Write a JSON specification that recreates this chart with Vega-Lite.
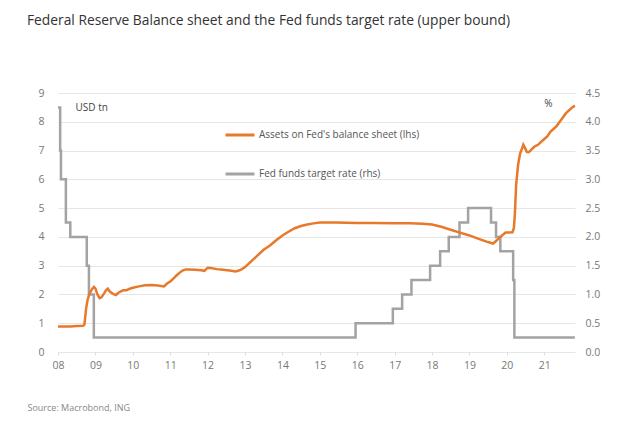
{
  "$schema": "https://vega.github.io/schema/vega-lite/v6.json",
  "width": 517,
  "height": 259,
  "autosize": {"type": "none"},
  "padding": {"left": 58, "top": 93, "right": 55, "bottom": 83},
  "background": "white",
  "config": {
    "font": "Open Sans",
    "view": {"stroke": null},
    "axis": {"labelColor": "#777777", "labelFontSize": 10.5, "titleColor": "#444444", "titleFontWeight": "normal"}
  },
  "title": {
    "text": "Federal Reserve Balance sheet and the Fed funds target rate (upper bound)",
    "anchor": "start",
    "frame": "group",
    "dx": -31,
    "offset": 60,
    "fontSize": 13.8,
    "fontWeight": "normal",
    "color": "#333333"
  },
  "datasets": {
    "assets": [
      {"date": "2008-01-01", "value": 0.89, "series": "Assets on Fed's balance sheet (lhs)"},
      {"date": "2008-03-01", "value": 0.89, "series": "Assets on Fed's balance sheet (lhs)"},
      {"date": "2008-05-01", "value": 0.89, "series": "Assets on Fed's balance sheet (lhs)"},
      {"date": "2008-07-01", "value": 0.90, "series": "Assets on Fed's balance sheet (lhs)"},
      {"date": "2008-09-01", "value": 0.91, "series": "Assets on Fed's balance sheet (lhs)"},
      {"date": "2008-09-15", "value": 0.95, "series": "Assets on Fed's balance sheet (lhs)"},
      {"date": "2008-10-01", "value": 1.5, "series": "Assets on Fed's balance sheet (lhs)"},
      {"date": "2008-10-15", "value": 1.8, "series": "Assets on Fed's balance sheet (lhs)"},
      {"date": "2008-11-01", "value": 2.0, "series": "Assets on Fed's balance sheet (lhs)"},
      {"date": "2008-11-15", "value": 2.1, "series": "Assets on Fed's balance sheet (lhs)"},
      {"date": "2008-12-01", "value": 2.2, "series": "Assets on Fed's balance sheet (lhs)"},
      {"date": "2008-12-17", "value": 2.26, "series": "Assets on Fed's balance sheet (lhs)"},
      {"date": "2009-01-01", "value": 2.2, "series": "Assets on Fed's balance sheet (lhs)"},
      {"date": "2009-01-20", "value": 2.0, "series": "Assets on Fed's balance sheet (lhs)"},
      {"date": "2009-02-10", "value": 1.87, "series": "Assets on Fed's balance sheet (lhs)"},
      {"date": "2009-03-01", "value": 1.9, "series": "Assets on Fed's balance sheet (lhs)"},
      {"date": "2009-03-20", "value": 2.0, "series": "Assets on Fed's balance sheet (lhs)"},
      {"date": "2009-04-15", "value": 2.15, "series": "Assets on Fed's balance sheet (lhs)"},
      {"date": "2009-05-01", "value": 2.2, "series": "Assets on Fed's balance sheet (lhs)"},
      {"date": "2009-05-20", "value": 2.1, "series": "Assets on Fed's balance sheet (lhs)"},
      {"date": "2009-06-10", "value": 2.05, "series": "Assets on Fed's balance sheet (lhs)"},
      {"date": "2009-07-01", "value": 2.0, "series": "Assets on Fed's balance sheet (lhs)"},
      {"date": "2009-07-20", "value": 1.98, "series": "Assets on Fed's balance sheet (lhs)"},
      {"date": "2009-08-10", "value": 2.05, "series": "Assets on Fed's balance sheet (lhs)"},
      {"date": "2009-09-01", "value": 2.1, "series": "Assets on Fed's balance sheet (lhs)"},
      {"date": "2009-10-01", "value": 2.15, "series": "Assets on Fed's balance sheet (lhs)"},
      {"date": "2009-11-01", "value": 2.15, "series": "Assets on Fed's balance sheet (lhs)"},
      {"date": "2009-12-01", "value": 2.2, "series": "Assets on Fed's balance sheet (lhs)"},
      {"date": "2010-01-01", "value": 2.23, "series": "Assets on Fed's balance sheet (lhs)"},
      {"date": "2010-03-01", "value": 2.28, "series": "Assets on Fed's balance sheet (lhs)"},
      {"date": "2010-05-01", "value": 2.32, "series": "Assets on Fed's balance sheet (lhs)"},
      {"date": "2010-07-01", "value": 2.33, "series": "Assets on Fed's balance sheet (lhs)"},
      {"date": "2010-09-01", "value": 2.31, "series": "Assets on Fed's balance sheet (lhs)"},
      {"date": "2010-11-01", "value": 2.28, "series": "Assets on Fed's balance sheet (lhs)"},
      {"date": "2010-12-01", "value": 2.38, "series": "Assets on Fed's balance sheet (lhs)"},
      {"date": "2011-01-01", "value": 2.45, "series": "Assets on Fed's balance sheet (lhs)"},
      {"date": "2011-02-01", "value": 2.55, "series": "Assets on Fed's balance sheet (lhs)"},
      {"date": "2011-03-01", "value": 2.65, "series": "Assets on Fed's balance sheet (lhs)"},
      {"date": "2011-04-01", "value": 2.75, "series": "Assets on Fed's balance sheet (lhs)"},
      {"date": "2011-05-01", "value": 2.83, "series": "Assets on Fed's balance sheet (lhs)"},
      {"date": "2011-06-01", "value": 2.87, "series": "Assets on Fed's balance sheet (lhs)"},
      {"date": "2011-07-01", "value": 2.87, "series": "Assets on Fed's balance sheet (lhs)"},
      {"date": "2011-09-01", "value": 2.86, "series": "Assets on Fed's balance sheet (lhs)"},
      {"date": "2011-11-01", "value": 2.84, "series": "Assets on Fed's balance sheet (lhs)"},
      {"date": "2011-12-01", "value": 2.82, "series": "Assets on Fed's balance sheet (lhs)"},
      {"date": "2012-01-01", "value": 2.93, "series": "Assets on Fed's balance sheet (lhs)"},
      {"date": "2012-02-01", "value": 2.92, "series": "Assets on Fed's balance sheet (lhs)"},
      {"date": "2012-04-01", "value": 2.88, "series": "Assets on Fed's balance sheet (lhs)"},
      {"date": "2012-06-01", "value": 2.86, "series": "Assets on Fed's balance sheet (lhs)"},
      {"date": "2012-08-01", "value": 2.83, "series": "Assets on Fed's balance sheet (lhs)"},
      {"date": "2012-10-01", "value": 2.8, "series": "Assets on Fed's balance sheet (lhs)"},
      {"date": "2012-11-01", "value": 2.83, "series": "Assets on Fed's balance sheet (lhs)"},
      {"date": "2012-12-01", "value": 2.88, "series": "Assets on Fed's balance sheet (lhs)"},
      {"date": "2013-01-01", "value": 2.95, "series": "Assets on Fed's balance sheet (lhs)"},
      {"date": "2013-03-01", "value": 3.15, "series": "Assets on Fed's balance sheet (lhs)"},
      {"date": "2013-05-01", "value": 3.35, "series": "Assets on Fed's balance sheet (lhs)"},
      {"date": "2013-07-01", "value": 3.55, "series": "Assets on Fed's balance sheet (lhs)"},
      {"date": "2013-09-01", "value": 3.7, "series": "Assets on Fed's balance sheet (lhs)"},
      {"date": "2013-11-01", "value": 3.88, "series": "Assets on Fed's balance sheet (lhs)"},
      {"date": "2014-01-01", "value": 4.05, "series": "Assets on Fed's balance sheet (lhs)"},
      {"date": "2014-03-01", "value": 4.18, "series": "Assets on Fed's balance sheet (lhs)"},
      {"date": "2014-05-01", "value": 4.3, "series": "Assets on Fed's balance sheet (lhs)"},
      {"date": "2014-07-01", "value": 4.38, "series": "Assets on Fed's balance sheet (lhs)"},
      {"date": "2014-09-01", "value": 4.43, "series": "Assets on Fed's balance sheet (lhs)"},
      {"date": "2014-11-01", "value": 4.47, "series": "Assets on Fed's balance sheet (lhs)"},
      {"date": "2015-01-01", "value": 4.5, "series": "Assets on Fed's balance sheet (lhs)"},
      {"date": "2015-06-01", "value": 4.5, "series": "Assets on Fed's balance sheet (lhs)"},
      {"date": "2016-01-01", "value": 4.48, "series": "Assets on Fed's balance sheet (lhs)"},
      {"date": "2016-06-01", "value": 4.48, "series": "Assets on Fed's balance sheet (lhs)"},
      {"date": "2017-01-01", "value": 4.47, "series": "Assets on Fed's balance sheet (lhs)"},
      {"date": "2017-06-01", "value": 4.47, "series": "Assets on Fed's balance sheet (lhs)"},
      {"date": "2017-10-01", "value": 4.46, "series": "Assets on Fed's balance sheet (lhs)"},
      {"date": "2018-01-01", "value": 4.43, "series": "Assets on Fed's balance sheet (lhs)"},
      {"date": "2018-04-01", "value": 4.35, "series": "Assets on Fed's balance sheet (lhs)"},
      {"date": "2018-07-01", "value": 4.25, "series": "Assets on Fed's balance sheet (lhs)"},
      {"date": "2018-10-01", "value": 4.15, "series": "Assets on Fed's balance sheet (lhs)"},
      {"date": "2019-01-01", "value": 4.05, "series": "Assets on Fed's balance sheet (lhs)"},
      {"date": "2019-04-01", "value": 3.93, "series": "Assets on Fed's balance sheet (lhs)"},
      {"date": "2019-07-01", "value": 3.82, "series": "Assets on Fed's balance sheet (lhs)"},
      {"date": "2019-08-20", "value": 3.77, "series": "Assets on Fed's balance sheet (lhs)"},
      {"date": "2019-09-15", "value": 3.85, "series": "Assets on Fed's balance sheet (lhs)"},
      {"date": "2019-10-15", "value": 3.95, "series": "Assets on Fed's balance sheet (lhs)"},
      {"date": "2019-11-15", "value": 4.05, "series": "Assets on Fed's balance sheet (lhs)"},
      {"date": "2019-12-20", "value": 4.15, "series": "Assets on Fed's balance sheet (lhs)"},
      {"date": "2020-01-20", "value": 4.15, "series": "Assets on Fed's balance sheet (lhs)"},
      {"date": "2020-02-25", "value": 4.16, "series": "Assets on Fed's balance sheet (lhs)"},
      {"date": "2020-03-10", "value": 4.3, "series": "Assets on Fed's balance sheet (lhs)"},
      {"date": "2020-03-20", "value": 4.8, "series": "Assets on Fed's balance sheet (lhs)"},
      {"date": "2020-04-01", "value": 5.8, "series": "Assets on Fed's balance sheet (lhs)"},
      {"date": "2020-04-20", "value": 6.5, "series": "Assets on Fed's balance sheet (lhs)"},
      {"date": "2020-05-10", "value": 6.9, "series": "Assets on Fed's balance sheet (lhs)"},
      {"date": "2020-06-01", "value": 7.1, "series": "Assets on Fed's balance sheet (lhs)"},
      {"date": "2020-06-10", "value": 7.2, "series": "Assets on Fed's balance sheet (lhs)"},
      {"date": "2020-06-25", "value": 7.1, "series": "Assets on Fed's balance sheet (lhs)"},
      {"date": "2020-07-15", "value": 6.95, "series": "Assets on Fed's balance sheet (lhs)"},
      {"date": "2020-08-05", "value": 6.95, "series": "Assets on Fed's balance sheet (lhs)"},
      {"date": "2020-09-01", "value": 7.05, "series": "Assets on Fed's balance sheet (lhs)"},
      {"date": "2020-10-01", "value": 7.15, "series": "Assets on Fed's balance sheet (lhs)"},
      {"date": "2020-11-01", "value": 7.2, "series": "Assets on Fed's balance sheet (lhs)"},
      {"date": "2020-12-01", "value": 7.3, "series": "Assets on Fed's balance sheet (lhs)"},
      {"date": "2021-01-01", "value": 7.4, "series": "Assets on Fed's balance sheet (lhs)"},
      {"date": "2021-02-01", "value": 7.5, "series": "Assets on Fed's balance sheet (lhs)"},
      {"date": "2021-03-01", "value": 7.65, "series": "Assets on Fed's balance sheet (lhs)"},
      {"date": "2021-04-01", "value": 7.75, "series": "Assets on Fed's balance sheet (lhs)"},
      {"date": "2021-05-01", "value": 7.85, "series": "Assets on Fed's balance sheet (lhs)"},
      {"date": "2021-06-01", "value": 8.0, "series": "Assets on Fed's balance sheet (lhs)"},
      {"date": "2021-07-01", "value": 8.15, "series": "Assets on Fed's balance sheet (lhs)"},
      {"date": "2021-08-01", "value": 8.3, "series": "Assets on Fed's balance sheet (lhs)"},
      {"date": "2021-09-01", "value": 8.4, "series": "Assets on Fed's balance sheet (lhs)"},
      {"date": "2021-10-01", "value": 8.5, "series": "Assets on Fed's balance sheet (lhs)"},
      {"date": "2021-10-27", "value": 8.56, "series": "Assets on Fed's balance sheet (lhs)"}
    ],
    "rate": [
      {"date": "2008-01-01", "value": 4.25, "series": "Fed funds target rate (rhs)"},
      {"date": "2008-01-22", "value": 3.5, "series": "Fed funds target rate (rhs)"},
      {"date": "2008-01-30", "value": 3.0, "series": "Fed funds target rate (rhs)"},
      {"date": "2008-03-18", "value": 2.25, "series": "Fed funds target rate (rhs)"},
      {"date": "2008-04-30", "value": 2.0, "series": "Fed funds target rate (rhs)"},
      {"date": "2008-10-08", "value": 1.5, "series": "Fed funds target rate (rhs)"},
      {"date": "2008-10-29", "value": 1.0, "series": "Fed funds target rate (rhs)"},
      {"date": "2008-12-16", "value": 0.25, "series": "Fed funds target rate (rhs)"},
      {"date": "2015-12-16", "value": 0.5, "series": "Fed funds target rate (rhs)"},
      {"date": "2016-12-14", "value": 0.75, "series": "Fed funds target rate (rhs)"},
      {"date": "2017-03-15", "value": 1.0, "series": "Fed funds target rate (rhs)"},
      {"date": "2017-06-14", "value": 1.25, "series": "Fed funds target rate (rhs)"},
      {"date": "2017-12-13", "value": 1.5, "series": "Fed funds target rate (rhs)"},
      {"date": "2018-03-21", "value": 1.75, "series": "Fed funds target rate (rhs)"},
      {"date": "2018-06-13", "value": 2.0, "series": "Fed funds target rate (rhs)"},
      {"date": "2018-09-26", "value": 2.25, "series": "Fed funds target rate (rhs)"},
      {"date": "2018-12-19", "value": 2.5, "series": "Fed funds target rate (rhs)"},
      {"date": "2019-07-31", "value": 2.25, "series": "Fed funds target rate (rhs)"},
      {"date": "2019-09-18", "value": 2.0, "series": "Fed funds target rate (rhs)"},
      {"date": "2019-10-30", "value": 1.75, "series": "Fed funds target rate (rhs)"},
      {"date": "2020-03-03", "value": 1.25, "series": "Fed funds target rate (rhs)"},
      {"date": "2020-03-15", "value": 0.25, "series": "Fed funds target rate (rhs)"},
      {"date": "2021-10-27", "value": 0.25, "series": "Fed funds target rate (rhs)"}
    ]
  },
  "encoding": {
    "x": {
      "field": "date",
      "type": "temporal",
      "scale": {"domain": ["2008-01-01", "2021-10-28"]},
      "axis": {
        "format": "%y",
        "tickCount": {"interval": "year", "step": 1},
        "grid": false,
        "domain": false,
        "ticks": true,
        "tickColor": "#dddddd",
        "tickSize": 3,
        "labelPadding": 5,
        "labelFlush": false,
        "title": "Source: Macrobond, ING",
        "titleX": -31,
        "titleY": 58,
        "titleAlign": "left",
        "titleAnchor": null,
        "titleFontSize": 9,
        "titleColor": "#888888",
        "titleBaseline": "alphabetic"
      }
    },
    "color": {
      "field": "series",
      "type": "nominal",
      "scale": {
        "domain": ["Assets on Fed's balance sheet (lhs)", "Fed funds target rate (rhs)"],
        "range": ["#E8792B", "#A3A3A3"]
      },
      "legend": {
        "title": null,
        "orient": "none",
        "legendX": 166,
        "legendY": 26,
        "symbolType": "stroke",
        "symbolSize": 841,
        "symbolStrokeWidth": 3,
        "labelFontSize": 10,
        "labelColor": "#555555",
        "labelOffset": 3,
        "labelLimit": 400,
        "rowPadding": 17,
        "padding": 0
      }
    }
  },
  "layer": [
    {
      "data": {"name": "rate"},
      "mark": {"type": "line", "interpolate": "step-after", "strokeWidth": 2.5},
      "encoding": {
        "y": {
          "field": "value",
          "type": "quantitative",
          "scale": {"domain": [0, 4.5]},
          "axis": {
            "orient": "right",
            "values": [0, 0.5, 1, 1.5, 2, 2.5, 3, 3.5, 4, 4.5],
            "format": ".1f",
            "grid": false,
            "domain": false,
            "ticks": false,
            "labelPadding": 10,
            "title": "%",
            "titleAngle": 0,
            "titleX": -27,
            "titleY": 10,
            "titleAlign": "center",
            "titleBaseline": "middle",
            "titleFontSize": 10
          }
        }
      }
    },
    {
      "data": {"name": "assets"},
      "mark": {"type": "line", "strokeWidth": 2.5},
      "encoding": {
        "y": {
          "field": "value",
          "type": "quantitative",
          "scale": {"domain": [0, 9]},
          "axis": {
            "orient": "left",
            "values": [0, 1, 2, 3, 4, 5, 6, 7, 8, 9],
            "grid": true,
            "gridColor": "#e6e6e6",
            "domain": false,
            "ticks": false,
            "labelPadding": 14,
            "title": "USD tn",
            "titleAngle": 0,
            "titleX": 17,
            "titleY": 14,
            "titleAlign": "left",
            "titleBaseline": "middle",
            "titleFontSize": 10
          }
        }
      }
    }
  ],
  "resolve": {"scale": {"y": "independent"}}
}
